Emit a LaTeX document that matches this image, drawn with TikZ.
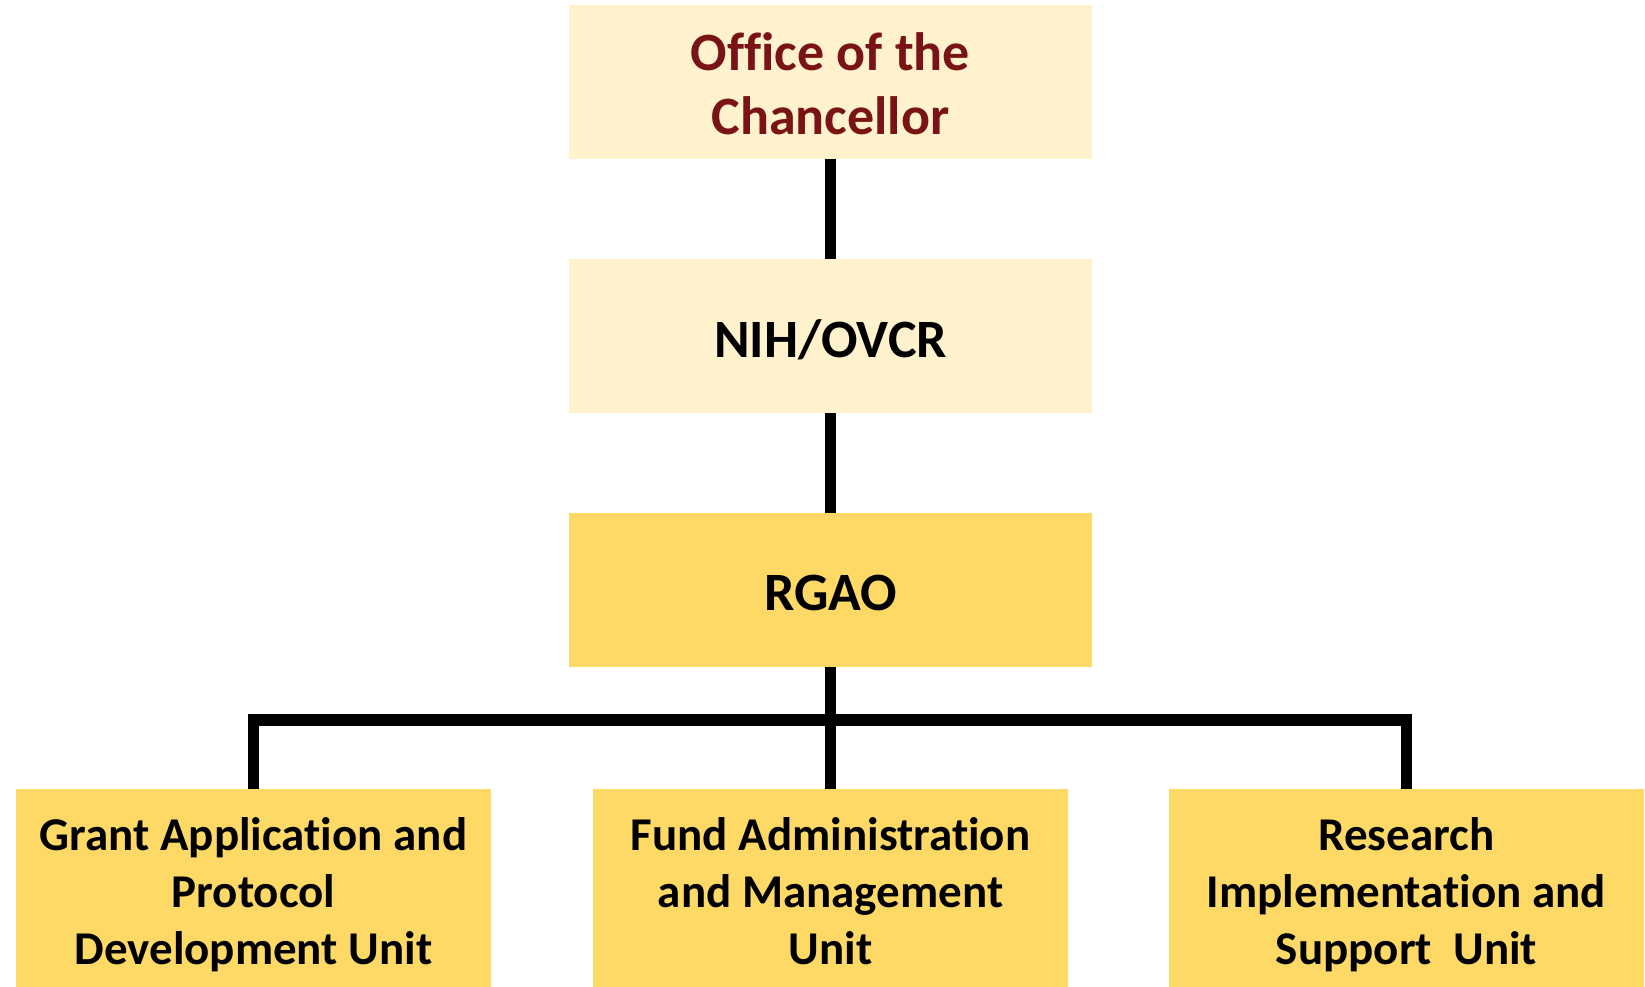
\documentclass[tikz,border=0pt]{standalone}
\usepackage{fontspec}
\setmainfont{Carlito}[Ligatures={NoCommon,NoContextual}]
\newcommand{\tibrk}{t\kern0pt i}
\definecolor{lightgold}{HTML}{FFF2CC}
\definecolor{gold}{HTML}{FFD966}
\definecolor{darkred}{HTML}{7A1315}
\tikzset{
  box/.style={rectangle, inner sep=0pt, draw=none},
  topbox/.style={box, fill=lightgold, minimum width=523pt, minimum height=154pt},
  rgaobox/.style={box, fill=gold, minimum width=523pt, minimum height=154pt},
  unitbox/.style={box, fill=gold, minimum width=475pt, minimum height=199pt},
  bigtxt/.style={inner sep=0pt, align=center, font=\fontsize{54}{64}\selectfont\bfseries},
  unittxt/.style={inner sep=0pt, align=center, anchor=base, font=\fontsize{47}{57}\selectfont\bfseries},
  conn/.style={line width=11.5pt, black}
}
\begin{document}
\begin{tikzpicture}[x=1pt,y=-1pt]
\useasboundingbox (0,0) rectangle (1645,986);
\node[topbox] (chan) at (830.5,82) {};
\node[topbox] (nih) at (830.5,336) {};
\node[rgaobox] (rgao) at (830.5,590) {};
\node[unitbox] (gap) at (253.5,888.5) {};
\node[unitbox] (fam) at (830.5,888.5) {};
\node[unitbox] (ris) at (1406.5,888.5) {};
\node[bigtxt, text=darkred, anchor=base] (chant) at (830.5,134) {Office of the\\Chancellor};
\node[bigtxt, anchor=base] (niht) at (830.5,357) {NIH/OVCR};
\node[bigtxt, anchor=base] (rgaot) at (830.5,610) {RGAO};
\node[unittxt] (gapt) at (253.5,964) {Grant Applica\tibrk on and\\Protocol\\Development Unit};
\node[unittxt] (famt) at (830.5,964) {Fund Administra\tibrk on\\and Management\\Unit};
\node[unittxt] (rist) at (1406.5,964) {Research\\Implementa\tibrk on and\\Support\ \ Unit};
\coordinate (barc) at (830.5,720);
\draw[conn] (chan.south) -- (nih.north);
\draw[conn] (nih.south) -- (rgao.north);
\draw[conn] (rgao.south) -- (fam.north);
\draw[conn] (gap.north) |- (barc) -| (ris.north);
\end{tikzpicture}
\end{document}
